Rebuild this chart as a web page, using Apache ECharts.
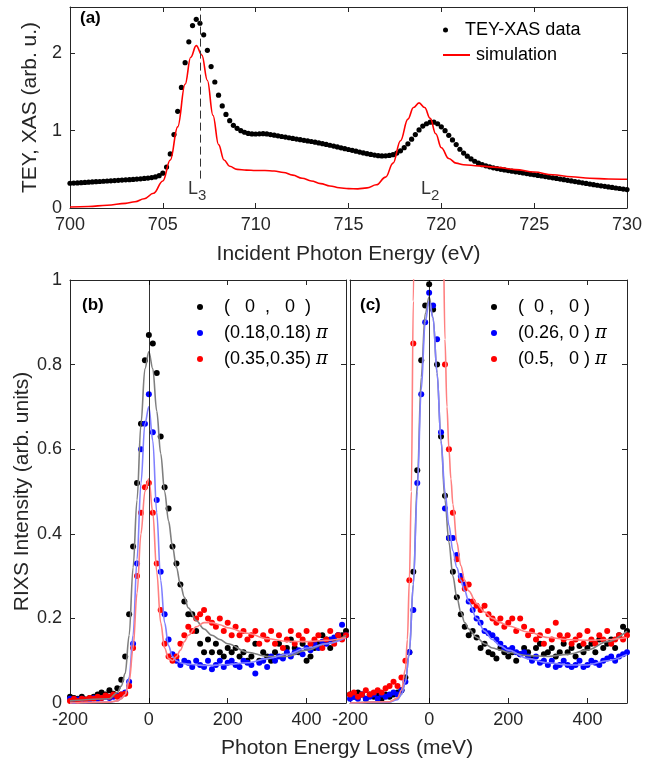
<!DOCTYPE html>
<html><head><meta charset="utf-8">
<script src="https://cdn.jsdelivr.net/npm/echarts@6/dist/echarts.min.js"></script>
<style>html,body{margin:0;padding:0;background:#fff}#c{width:650px;height:760px}</style>
</head><body><div id="c"></div>
<script>
// ---------- Panel (a): XAS ----------
const teyStart = 700, teyStep = 0.2;
const teyI = [0.320,0.322,0.325,0.328,0.331,0.334,0.337,0.340,0.343,0.346,
0.349,0.352,0.355,0.358,0.361,0.364,0.367,0.370,0.374,0.378,
0.382,0.387,0.393,0.402,0.418,0.45,0.53,0.70,0.95,1.25,
1.56,1.88,2.15,2.36,2.44,2.39,2.24,2.04,1.83,1.63,
1.46,1.32,1.21,1.13,1.07,1.03,1.00,0.98,0.965,0.958,
0.957,0.96,0.962,0.958,0.95,0.942,0.933,0.925,0.917,0.909,
0.90,0.892,0.884,0.876,0.868,0.86,0.851,0.842,0.832,0.822,
0.812,0.801,0.79,0.779,0.768,0.757,0.746,0.735,0.724,0.713,
0.703,0.693,0.684,0.677,0.674,0.675,0.68,0.69,0.71,0.74,
0.78,0.83,0.89,0.95,1.01,1.06,1.09,1.11,1.11,1.09,
1.05,1.00,0.94,0.88,0.82,0.76,0.71,0.67,0.635,0.605,
0.58,0.56,0.545,0.532,0.52,0.51,0.50,0.492,0.484,0.476,
0.468,0.461,0.453,0.445,0.437,0.43,0.422,0.414,0.406,0.398,
0.39,0.382,0.374,0.366,0.358,0.35,0.342,0.334,0.326,0.318,
0.31,0.302,0.294,0.287,0.28,0.273,0.266,0.259,0.252,0.245,0.238];
const simE = [700,701,702,703,703.5,704,704.5,705,705.4,705.8,706.2,706.5,706.8,707.1,707.4,707.7,708.0,708.3,708.6,709,709.5,710,710.5,711,711.5,712,712.5,713,713.5,714,714.5,715,715.5,716,716.5,717,717.4,717.8,718.2,718.5,718.8,719.1,719.4,719.7,720.0,720.4,720.8,721.2,722,723,724,725,726,727,728,729,730];
const simI = [0.012,0.02,0.035,0.06,0.08,0.12,0.19,0.35,0.62,1.05,1.6,1.95,2.1,1.98,1.65,1.2,0.82,0.62,0.54,0.5,0.49,0.485,0.485,0.478,0.46,0.425,0.385,0.35,0.315,0.285,0.262,0.25,0.248,0.26,0.3,0.4,0.58,0.87,1.15,1.3,1.36,1.3,1.16,0.96,0.78,0.64,0.58,0.56,0.545,0.525,0.497,0.465,0.43,0.405,0.385,0.375,0.372];
const l3Energy = 707.0, dashBottom = 0.38;
const edgeLabels = [{name:'L', sub:'3', e:706.85, v:0.24},{name:'L', sub:'2', e:719.4, v:0.24}];

// ---------- Panels (b),(c): RIXS ----------
const rixsStart = -200, rixsStep = 10;
const b00 = [0.015,0.012,0.01,0.015,0.008,0.012,0.015,0.02,0.025,0.02,0.03,0.022,0.035,0.055,0.11,0.21,0.37,0.52,0.66,0.81,0.87,0.85,0.78,0.63,0.51,0.46,0.37,0.33,0.28,0.24,0.21,0.21,0.17,0.14,0.12,0.15,0.12,0.14,0.12,0.11,0.13,0.12,0.13,0.11,0.12,0.10,0.11,0.14,0.10,0.12,0.11,0.10,0.12,0.14,0.11,0.13,0.15,0.13,0.12,0.14,0.10,0.11,0.13,0.14,0.16,0.15,0.13,0.15,0.16,0.16,0.17];
const b18 = [0.01,0.005,0.008,0.01,0.006,0.008,0.012,0.01,0.012,0.015,0.012,0.015,0.018,0.02,0.025,0.05,0.14,0.33,0.6,0.66,0.73,0.64,0.48,0.31,0.21,0.15,0.115,0.1,0.09,0.1,0.095,0.085,0.1,0.09,0.085,0.1,0.08,0.09,0.1,0.085,0.095,0.1,0.09,0.085,0.1,0.095,0.09,0.07,0.095,0.1,0.085,0.11,0.1,0.11,0.105,0.12,0.11,0.12,0.125,0.115,0.13,0.125,0.14,0.13,0.145,0.14,0.15,0.155,0.16,0.185,0.16];
const b35 = [0.005,0.01,0.005,0.01,0.008,0.012,0.01,0.015,0.012,0.018,0.015,0.02,0.015,0.02,0.022,0.04,0.13,0.3,0.45,0.51,0.52,0.45,0.33,0.22,0.14,0.11,0.1,0.11,0.14,0.16,0.18,0.17,0.2,0.21,0.22,0.2,0.19,0.18,0.2,0.17,0.19,0.16,0.18,0.16,0.17,0.15,0.16,0.17,0.14,0.16,0.15,0.17,0.14,0.16,0.13,0.15,0.17,0.14,0.16,0.15,0.17,0.14,0.15,0.16,0.13,0.15,0.17,0.14,0.16,0.15,0.16];
const c00 = [0.02,0.015,0.025,0.02,0.01,0.02,0.015,0.02,0.01,0.02,0.015,0.02,0.025,0.03,0.06,0.12,0.31,0.55,0.81,0.94,0.99,0.93,0.8,0.63,0.49,0.39,0.31,0.25,0.21,0.18,0.16,0.17,0.155,0.13,0.14,0.12,0.115,0.105,0.13,0.12,0.11,0.12,0.1,0.115,0.13,0.12,0.105,0.13,0.14,0.115,0.12,0.13,0.11,0.12,0.14,0.12,0.13,0.11,0.135,0.12,0.13,0.14,0.12,0.15,0.13,0.14,0.15,0.13,0.16,0.18,0.17];
const c26 = [0.01,0.015,0.01,0.02,0.01,0.015,0.02,0.01,0.02,0.015,0.02,0.025,0.02,0.03,0.05,0.12,0.22,0.52,0.73,0.9,0.97,0.94,0.86,0.64,0.46,0.39,0.39,0.35,0.3,0.28,0.24,0.22,0.2,0.19,0.17,0.165,0.16,0.15,0.14,0.13,0.125,0.13,0.12,0.115,0.12,0.11,0.1,0.11,0.095,0.1,0.09,0.1,0.085,0.09,0.1,0.09,0.085,0.09,0.1,0.085,0.09,0.1,0.095,0.09,0.1,0.105,0.11,0.1,0.11,0.115,0.12];
const c50 = [0.02,0.025,0.015,0.02,0.03,0.02,0.025,0.03,0.025,0.035,0.04,0.05,0.04,0.06,0.1,0.29,0.85,1.3,1.6,1.8,1.9,1.8,1.6,1.3,0.8,0.6,0.45,0.34,0.29,0.27,0.28,0.24,0.23,0.22,0.23,0.21,0.2,0.19,0.2,0.18,0.19,0.2,0.17,0.2,0.18,0.16,0.17,0.15,0.16,0.14,0.17,0.15,0.19,0.16,0.15,0.16,0.14,0.15,0.16,0.14,0.17,0.15,0.14,0.16,0.15,0.17,0.14,0.15,0.16,0.15,0.16];
const fitX = [-200,-100,-80,-70,-60,-50,-40,-30,-20,-10,0,10,20,30,40,50,60,70,80,90,100,120,140,160,180,200,250,300,350,400,450,500];
const fitB00 = [0.005,0.01,0.025,0.04,0.07,0.16,0.32,0.48,0.66,0.79,0.83,0.79,0.69,0.59,0.5,0.43,0.37,0.32,0.28,0.25,0.225,0.195,0.175,0.16,0.15,0.14,0.12,0.11,0.11,0.125,0.14,0.16];
const fitB18 = [0.0,0.002,0.005,0.01,0.02,0.06,0.16,0.34,0.52,0.66,0.70,0.62,0.45,0.29,0.19,0.135,0.11,0.1,0.095,0.093,0.092,0.09,0.089,0.089,0.09,0.091,0.095,0.105,0.115,0.13,0.14,0.155];
const fitB35 = [0,0.002,0.005,0.01,0.02,0.05,0.13,0.26,0.4,0.5,0.53,0.45,0.31,0.19,0.13,0.105,0.1,0.11,0.125,0.145,0.16,0.18,0.19,0.19,0.185,0.178,0.165,0.152,0.146,0.145,0.148,0.155];
const fitC00 = [0,0.003,0.01,0.02,0.05,0.12,0.28,0.52,0.77,0.92,0.96,0.91,0.78,0.62,0.48,0.38,0.3,0.25,0.215,0.19,0.175,0.155,0.14,0.13,0.125,0.12,0.112,0.11,0.115,0.125,0.145,0.17];
const fitC26 = [0,0.002,0.008,0.02,0.05,0.12,0.28,0.5,0.74,0.9,0.95,0.91,0.78,0.62,0.5,0.42,0.36,0.32,0.29,0.265,0.24,0.2,0.17,0.15,0.135,0.125,0.105,0.095,0.09,0.09,0.1,0.115];
const fitC50X = [-200,-100,-80,-70,-60,-55,-50,-45,-40,-35,-30,-20,-10,0,10,20,30,35,40,45,50,55,60,70,80,90,100,120,140,160,180,200,250,300,350,400,450,500];
const fitC50 = [0,0.003,0.012,0.03,0.08,0.15,0.29,0.5,0.95,1.4,1.75,2.0,2.1,2.1,2.05,1.85,1.5,1.15,0.86,0.7,0.6,0.53,0.47,0.38,0.325,0.29,0.265,0.235,0.215,0.2,0.19,0.182,0.168,0.155,0.15,0.148,0.15,0.155];
const zeroLoss = 0;

const namesB = ['(   0  ,   0  )', '(0.18,0.18) π', '(0.35,0.35) π'];
const namesC = ['(  0 ,   0 )', '(0.26, 0 ) π', '(0.5,   0 ) π'];

// ---------- helpers ----------
const FONT = 'Liberation Sans, Arial, sans-serif';
const AX = '#262626';
const TICK_FS = 18, TITLE_FS = 21;
function grid1D(start, step, vals){ return vals.map((v,i)=>[+(start+i*step).toFixed(3), v]); }
function zip(xs, ys){ return xs.map((x,i)=>[x, ys[i]]); }
function xAxis(gi, min, max, interval, pos, labels, name, nameGap){
  return {gridIndex:gi, type:'value', min, max, interval, position:pos,
    axisLine:{show:true, onZero:false, lineStyle:{color:AX, width:1}},
    axisTick:{show:true, inside:true, length:5, lineStyle:{color:AX}},
    axisLabel:{show:labels, color:'#262626', fontSize:TICK_FS, fontFamily:FONT, margin:8, showMaxLabel: max%interval===0},
    splitLine:{show:false},
    name: name||'', nameLocation:'middle', nameGap: nameGap||30,
    nameTextStyle:{color:'#262626', fontSize:TITLE_FS, fontFamily:FONT}};
}
function yAxis(gi, min, max, interval, pos, labels, name, nameGap){
  return {gridIndex:gi, type:'value', min, max, interval, position:pos,
    axisLine:{show:true, onZero:false, lineStyle:{color:AX, width:1}},
    axisTick:{show:true, inside:true, length:5, lineStyle:{color:AX}},
    axisLabel:{show:labels, color:'#262626', fontSize:TICK_FS, fontFamily:FONT, margin:8, showMaxLabel: Math.abs(max/interval-Math.round(max/interval))<1e-9},
    splitLine:{show:false},
    name: name||'', nameLocation:'middle', nameGap: nameGap||30,
    nameTextStyle:{color:'#262626', fontSize:TITLE_FS, fontFamily:FONT}};
}
function dots(name, xi, yi, data, color, size){
  return {type:'scatter', name, xAxisIndex:xi, yAxisIndex:yi, data, symbol:'circle', symbolSize:size,
    itemStyle:{color, opacity:1}, clip:true, silent:true, z:3};
}
function fit(xi, yi, data, color, extra){
  return Object.assign({type:'line', xAxisIndex:xi, yAxisIndex:yi, data, symbol:'none', smooth:0.35, smoothMonotone:'x',
    lineStyle:{color, width:1.6}, clip:true, silent:true, z:4}, extra||{});
}
const zeroMark = {silent:true, symbol:'none', label:{show:false}, lineStyle:{color:'#000', width:0.8, type:'solid'}, data:[{xAxis:zeroLoss}]};

const legendText = {color:'#000', fontSize:TICK_FS, fontFamily:FONT, padding:[0,0,0,16],
  rich:{pi:{fontFamily:'DejaVu Serif, serif', fontStyle:'italic', fontSize:18, color:'#000'}}};
const piFmt = n => n.replace(' π', ' {pi|π}');

const chart = echarts.init(document.getElementById('c'), null, {renderer:'canvas'});
chart.setOption({
  backgroundColor:'#fff',
  animation:false,
  grid:[
    {left:70, top:7, width:557, height:201},
    {left:70, top:280, width:276, height:423},
    {left:350, top:280, width:277, height:423}
  ],
  xAxis:[
    xAxis(0,700,730,5,'bottom',true,'Incident Photon Energy (eV)',36),
    xAxis(0,700,730,5,'top',false),
    xAxis(1,-200,500,200,'bottom',true,'',30),
    xAxis(1,-200,500,200,'top',false),
    xAxis(2,-200,500,200,'bottom',true,'',30),
    xAxis(2,-200,500,200,'top',false)
  ],
  yAxis:[
    yAxis(0,0,2.6,1,'left',true,'TEY, XAS (arb. u.)',29),
    yAxis(0,0,2.6,1,'right',false),
    yAxis(1,0,1,0.2,'left',true,'RIXS Intensity (arb. units)',30),
    yAxis(1,0,1,0.2,'right',false),
    yAxis(2,0,1,0.2,'left',false),
    yAxis(2,0,1,0.2,'right',false)
  ],
  legend:[
    {orient:'vertical', left:443, top:21, padding:0, itemWidth:27, itemHeight:5, selectedMode:false,
     textStyle:{color:'#000', fontSize:TICK_FS, fontFamily:FONT, padding:[0,0,0,1]},
     data:[{name:'TEY-XAS data', icon:'circle'}]},
    {orient:'vertical', left:443, top:46, padding:0, itemWidth:27, itemHeight:2, selectedMode:false,
     textStyle:{color:'#000', fontSize:TICK_FS, fontFamily:FONT, padding:[0,0,0,1]},
     data:[{name:'simulation', icon:'rect'}]},
    {orient:'vertical', left:197, top:298, padding:0, itemWidth:6, itemHeight:6, itemGap:8, selectedMode:false,
     textStyle:legendText, formatter:piFmt, data:namesB.map(n=>({name:n, icon:'circle'}))},
    {orient:'vertical', left:491, top:298, padding:0, itemWidth:6, itemHeight:6, itemGap:8, selectedMode:false,
     textStyle:legendText, formatter:piFmt, data:namesC.map(n=>({name:n, icon:'circle'}))}
  ],
  graphic:[
    {type:'text', left:80, top:10, style:{text:'(a)', font:'bold 17px '+FONT, fill:'#000'}},
    {type:'text', left:82, top:297, style:{text:'(b)', font:'bold 17px '+FONT, fill:'#000'}},
    {type:'text', left:360, top:297, style:{text:'(c)', font:'bold 17px '+FONT, fill:'#000'}},
    {type:'text', left:221, top:738, style:{text:'Photon Energy Loss (meV)', font:TITLE_FS+'px '+FONT, fill:'#262626'}}
  ],
  series:[
    // panel a
    dots('TEY-XAS data',0,0,grid1D(teyStart,teyStep,teyI),'#000',5.2),
    {type:'line', name:'simulation', xAxisIndex:0, yAxisIndex:0, data:zip(simE,simI), symbol:'none', smooth:0.4, smoothMonotone:'x',
     lineStyle:{color:'#ff0000', width:1.6}, itemStyle:{color:'#ff0000'}, silent:true, z:4,
     markLine:{silent:true, symbol:'none', label:{show:false}, lineStyle:{color:'#333', width:1, type:[8,4]},
       data:[[{coord:[l3Energy,dashBottom]},{coord:[l3Energy,2.6]}]]}},
    {type:'scatter', xAxisIndex:0, yAxisIndex:0, symbolSize:0, silent:true,
     data:edgeLabels.map(d=>({value:[d.e,d.v], lab:d})),
     label:{show:true, position:'inside', formatter:p=>'{m|'+p.data.lab.name+'}{s|'+p.data.lab.sub+'}',
       rich:{m:{fontSize:18, fontFamily:FONT, color:'#000'}, s:{fontSize:15, fontFamily:FONT, color:'#000', padding:[12,0,0,0]}}}},
    // panel b
    fit(2,2,zip(fitX,fitB00),'#7f7f7f',{markLine:zeroMark}),
    fit(2,2,zip(fitX,fitB18),'#8080ff'),
    fit(2,2,zip(fitX,fitB35),'#ff8080'),
    dots(namesB[0],2,2,grid1D(rixsStart,rixsStep,b00),'#000',6),
    dots(namesB[1],2,2,grid1D(rixsStart,rixsStep,b18),'#0000ff',6),
    dots(namesB[2],2,2,grid1D(rixsStart,rixsStep,b35),'#ff0000',6),
    // panel c
    fit(4,4,zip(fitX,fitC00),'#7f7f7f',{markLine:zeroMark}),
    fit(4,4,zip(fitX,fitC26),'#8080ff'),
    fit(4,4,zip(fitC50X,fitC50),'#ff8080'),
    dots(namesC[0],4,4,grid1D(rixsStart,rixsStep,c00),'#000',6),
    dots(namesC[1],4,4,grid1D(rixsStart,rixsStep,c26),'#0000ff',6),
    dots(namesC[2],4,4,grid1D(rixsStart,rixsStep,c50),'#ff0000',6)
  ]
});
</script></body></html>
